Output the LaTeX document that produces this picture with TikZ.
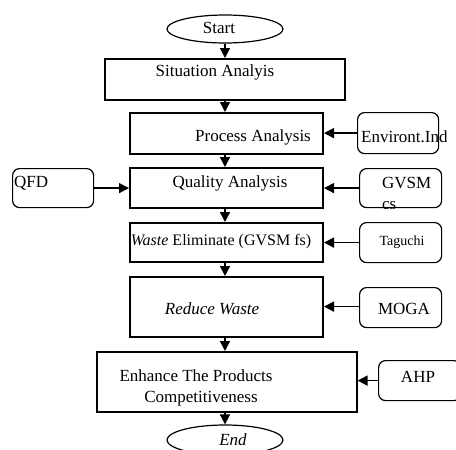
\documentclass[tikz,border=0pt]{standalone}
\usepackage{fontspec}
\setmainfont{Liberation Serif}
\usetikzlibrary{arrows.meta,shapes.geometric,calc}
\begin{document}
\begin{tikzpicture}[x=1pt,y=-1pt,
  mainbox/.style={draw,line width=2pt,rectangle,inner sep=0pt,anchor=north west},
  sidebox/.style={draw,line width=1.2pt,rectangle,rounded corners=7pt,inner sep=0pt,anchor=north west},
  oval/.style={draw,line width=1.2pt,ellipse,inner sep=0pt},
  lbl/.style={inner sep=0pt,font=\fontsize{17}{21}\selectfont},
  flow/.style={line width=1.5pt,-{Triangle[length=10pt,width=10pt]}}]
\clip (0,0) rectangle (456,450);
\useasboundingbox (0,0) rectangle (456,450);
% flow boxes
\node[oval,minimum width=116pt,minimum height=28pt] (start) at (225,29) {};
\node[lbl] (tstart) at (219,28) {Start};
\node[mainbox,minimum width=240pt,minimum height=41pt] (sit) at (104,58) {};
\node[lbl] (tsit) at (215,72) {Situation Analyis};
\node[mainbox,minimum width=193pt,minimum height=41pt] (proc) at (129,112) {};
\node[lbl] (tproc) at (253,137) {Process Analysis};
\node[mainbox,minimum width=193pt,minimum height=40pt] (qual) at (129,167) {};
\node[lbl] (tqual) at (230,183) {Quality Analysis};
\node[mainbox,minimum width=193pt,minimum height=39pt] (waste) at (129,222) {};
\node[lbl,font=\fontsize{16}{20}\selectfont] (twaste) at (221,242) {\textit{Waste} Eliminate (GVSM fs)};
\node[mainbox,minimum width=193pt,minimum height=60pt] (red) at (129,276) {};
\node[lbl] (tred) at (212,309) {\textit{Reduce Waste}};
\node[mainbox,line width=1.6pt,minimum width=260pt,minimum height=60pt] (enh) at (96,351) {};
\node[lbl,align=center] (tenh) at (196,388) {Enhance The Products\\\hspace*{10pt}Competitiveness};
\node[oval,minimum width=116pt,minimum height=30pt] (endn) at (225,440) {};
\node[lbl] (tend) at (233,440) {\textit{End}};
% side boxes
\node[sidebox,minimum width=81pt,minimum height=41pt] (env) at (357,112) {};
\node[lbl,anchor=west] (tenv) at (361,137) {Environt.Ind};
\node[sidebox,minimum width=81pt,minimum height=39pt] (qfd) at (12,168) {};
\node[lbl,anchor=west] (tqfd) at (14,183) {QFD};
\node[sidebox,minimum width=82pt,minimum height=39pt] (gvsm) at (359,168) {};
\node[lbl,anchor=west] (tgvsm) at (382,183) {GVSM};
\begin{scope}
\clip (gvsm.north west) rectangle (gvsm.south east);
\node[lbl,anchor=west] (tcs) at (382,206) {cs};
\end{scope}
\node[sidebox,minimum width=82pt,minimum height=40pt] (tag) at (359,222) {};
\node[lbl,font=\fontsize{14}{17}\selectfont] (ttag) at (402,242) {Taguchi};
\node[sidebox,minimum width=82pt,minimum height=40pt] (moga) at (359,287) {};
\node[lbl] (tmoga) at (404,309) {MOGA};
\node[sidebox,minimum width=82pt,minimum height=40pt] (ahp) at (378,360) {};
\node[lbl] (tahp) at (418,377) {AHP};
% vertical connectors
\draw[flow] (start.south) -- (start.south |- sit.north);
\draw[flow] (start.south |- sit.south) -- (start.south |- proc.north);
\draw[flow] (start.south |- proc.south) -- (start.south |- qual.north);
\draw[flow] (start.south |- qual.south) -- (start.south |- waste.north);
\draw[flow] (start.south |- waste.south) -- (start.south |- red.north);
\draw[flow] (start.south |- red.south) -- (start.south |- enh.north);
\draw[flow] (start.south |- enh.south) -- (endn.north);
% horizontal connectors
\draw[flow] (env.west) -- (env.west -| proc.east);
\draw[flow] (qfd.east) -- (qfd.east -| qual.west);
\draw[flow] (gvsm.west) -- (gvsm.west -| qual.east);
\draw[flow] (tag.west) -- (tag.west -| waste.east);
\draw[flow] ($(moga.west)+(0,-1)$) -- ($(moga.west -| red.east)+(0,-1)$);
\draw[flow] (ahp.west) -- (ahp.west -| enh.east);
\end{tikzpicture}
\end{document}
